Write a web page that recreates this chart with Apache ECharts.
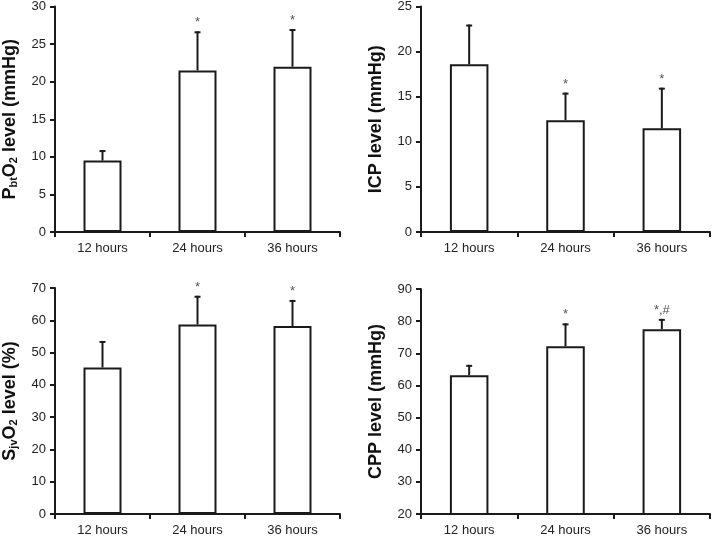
<!DOCTYPE html>
<html>
<head>
<meta charset="utf-8">
<script src="https://cdn.jsdelivr.net/npm/echarts@6/dist/echarts.min.js"></script>
<style>
html,body{margin:0;padding:0;background:#fff;}
#c{width:712px;height:537px;}
</style>
</head>
<body>
<div id="c"></div>
<script>
var categories = ['12 hours', '24 hours', '36 hours'];

var pbto2Mean = [9.5, 21.5, 22.0];
var pbto2Upper = [10.9, 26.7, 27.0];
var pbto2Marks = ['', '*', '*'];

var icpMean = [18.6, 12.4, 11.5];
var icpUpper = [23.0, 15.45, 16.0];
var icpMarks = ['', '*', '*'];

var sjvo2Mean = [45.4, 58.7, 58.2];
var sjvo2Upper = [53.6, 67.6, 66.3];
var sjvo2Marks = ['', '*', '*'];

var cppMean = [63.2, 72.2, 77.5];
var cppUpper = [66.4, 79.3, 80.7];
var cppMarks = ['', '*', '*,#'];

var axisRanges = [
  {min: 0, max: 30, interval: 5},
  {min: 0, max: 25, interval: 5},
  {min: 0, max: 70, interval: 10},
  {min: 20, max: 90, interval: 10}
];

var axisNames = [
  '{m|P}{s|bt}{m|O}{s|2}{m| level (mmHg)}',
  '{m|ICP level (mmHg)}',
  '{m|S}{s|jv}{m|O}{s|2}{m| level (%)}',
  '{m|CPP level (mmHg)}'
];

var panels = [
  {mean: pbto2Mean, upper: pbto2Upper, marks: pbto2Marks},
  {mean: icpMean, upper: icpUpper, marks: icpMarks},
  {mean: sjvo2Mean, upper: sjvo2Upper, marks: sjvo2Marks},
  {mean: cppMean, upper: cppUpper, marks: cppMarks}
];

var gridBoxes = [
  {left: 55, top: 5, width: 285, height: 227},
  {left: 421, top: 5, width: 289, height: 227},
  {left: 55, top: 288, width: 285, height: 228},
  {left: 421, top: 289, width: 289, height: 227}
];

var FONT = 'Liberation Sans, Arial, Helvetica, sans-serif';
var AX = '#1a1a1a';

var grids = [], xAxes = [], yAxes = [], series = [];
panels.forEach(function (p, i) {
  grids.push(Object.assign({containLabel: false}, gridBoxes[i]));
  xAxes.push({
    type: 'category', gridIndex: i, data: categories,
    axisLine: {lineStyle: {color: AX, width: 2}},
    axisTick: {show: true, length: 5, lineStyle: {color: AX, width: 2}},
    axisLabel: {color: '#222', fontSize: 13, fontFamily: FONT, margin: 10},
    splitLine: {show: false}
  });
  yAxes.push({
    type: 'value', gridIndex: i,
    min: axisRanges[i].min, max: axisRanges[i].max, interval: axisRanges[i].interval,
    axisLine: {show: true, lineStyle: {color: AX, width: 2}},
    axisTick: {show: true, length: 5, lineStyle: {color: AX, width: 2}},
    axisLabel: {color: '#222', fontSize: 13, fontFamily: FONT, margin: 9},
    splitLine: {show: false},
    name: axisNames[i], nameLocation: 'middle', nameRotate: 90, nameGap: 36,
    nameTextStyle: {
      fontFamily: FONT,
      rich: {
        m: {fontSize: 18, fontWeight: 'bold', color: '#111', fontFamily: FONT},
        s: {fontSize: 11, fontWeight: 'bold', color: '#111', fontFamily: FONT, verticalAlign: 'bottom', lineHeight: 12}
      }
    }
  });
  series.push({
    type: 'bar', xAxisIndex: i, yAxisIndex: i,
    data: p.mean, barWidth: '40%',
    itemStyle: {color: '#fff', borderColor: AX, borderWidth: 2},
    silent: true, animation: false
  });
  var errData = p.mean.map(function (m, k) { return [k, m, p.upper[k], p.marks[k]]; });
  series.push({
    type: 'custom', xAxisIndex: i, yAxisIndex: i,
    data: errData, animation: false, silent: true, z: 5,
    renderItem: function (params, api) {
      var k = api.value(0);
      var a = api.coord([k, api.value(1)]);
      var b = api.coord([k, api.value(2)]);
      var mark = errData[params.dataIndex][3];
      var children = [
        {type: 'line', shape: {x1: a[0], y1: a[1], x2: b[0], y2: b[1] }, style: {stroke: AX, lineWidth: 2}},
        {type: 'line', shape: {x1: b[0] - 3, y1: b[1] + 1, x2: b[0] + 3, y2: b[1] + 1}, style: {stroke: AX, lineWidth: 2}}
      ];
      if (mark) {
        children.push({type: 'text', style: {text: mark, x: b[0], y: b[1] - 2, textAlign: 'center', textVerticalAlign: 'bottom', fill: '#555', fontSize: 13, fontFamily: FONT}});
      }
      return {type: 'group', children: children};
    }
  });
});

var chart = echarts.init(document.getElementById('c'), null, {renderer: 'canvas'});
chart.setOption({
  animation: false,
  backgroundColor: '#fff',
  grid: grids, xAxis: xAxes, yAxis: yAxes, series: series
});
</script>
</body>
</html>
